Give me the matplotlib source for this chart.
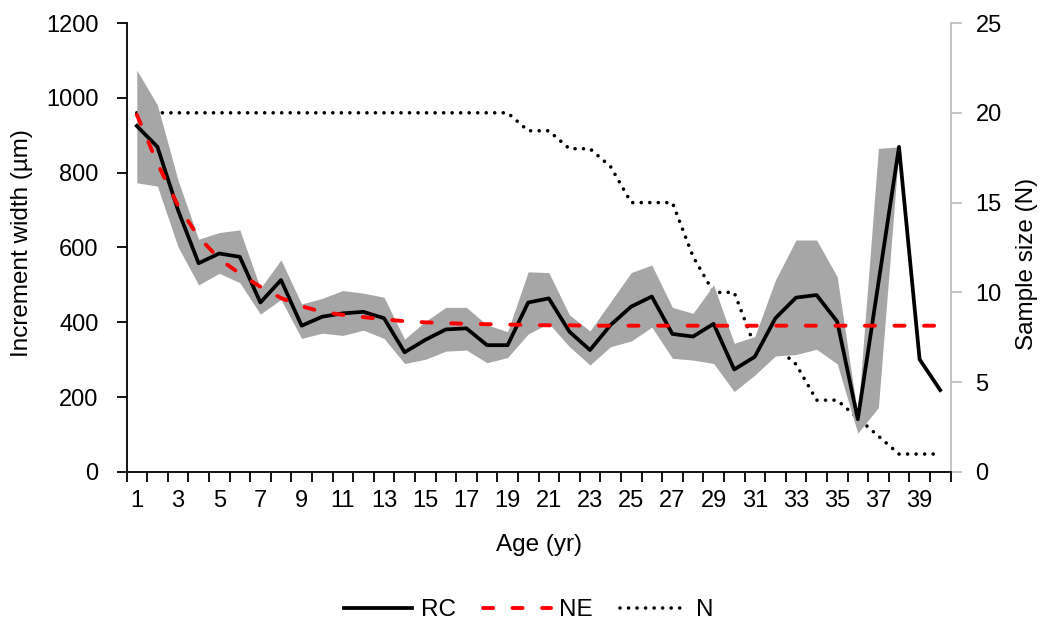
import matplotlib
matplotlib.use("Agg")
from matplotlib import pyplot as plt
from matplotlib.lines import Line2D

plt.rcParams['font.family'] = ['Liberation Sans', 'DejaVu Sans']

age = list(range(1, 41))

# RC chronology (um)
rc = [925, 869, 700, 558, 584, 575, 453, 513, 391, 415,
      424, 428, 411, 320, 353, 381, 384, 339, 339, 453,
      464, 375, 326, 393, 442, 469, 369, 362, 396, 274,
      308, 411, 466, 473, 402, 141, 505, 869, 301, 219]

# gray band, ages 1-38
band_age = list(range(1, 39))
band_hi = [1074, 981, 780, 622, 640, 647, 491, 567, 449, 464,
           485, 478, 467, 355, 402, 440, 440, 393, 375, 535,
           533, 420, 377, 455, 533, 553, 440, 424, 500, 344,
           362, 513, 620, 620, 522, 150, 865, 869]
band_lo = [773, 764, 602, 500, 531, 506, 422, 461, 357, 371,
           365, 379, 357, 290, 301, 323, 326, 292, 306, 369,
           397, 335, 286, 335, 350, 387, 304, 299, 290, 215,
           259, 310, 314, 328, 289, 104, 172, 869]

# NE curve (um)
ne = [955, 825, 712, 628, 570, 530, 495, 465, 443, 428,
      420, 414, 408, 403, 400, 398, 396, 395, 394, 393,
      392, 392, 391, 391, 391, 391, 391, 391, 391, 391,
      391, 391, 391, 391, 391, 391, 391, 391, 391, 391]

# sample size
n = [20, 20, 20, 20, 20, 20, 20, 20, 20, 20,
     20, 20, 20, 20, 20, 20, 20, 20, 20, 19,
     19, 18, 18, 17, 15, 15, 15, 12, 10, 10,
     7, 7, 6, 4, 4, 3, 2, 1, 1, 1]

fig = plt.figure(figsize=(10.45, 6.28), dpi=100)
ax = fig.add_axes([126.5 / 1045, 1 - 472 / 628, 824 / 1045, 449 / 628])
ax2 = ax.twinx()

ne_style = dict(color="#ff0000", lw=2.8, ls=(0, (2.6, 5.0)),
                dash_capstyle="round")
n_style = dict(color="black", lw=2.6, ls=(0, (0.01, 2.35)),
               dash_capstyle="round")

ax.fill_between(band_age, band_lo, band_hi, color="#a6a6a6", lw=0, zorder=1)
ax.plot(age, rc, color="black", lw=2.7, zorder=3)
ax.plot(age, ne, zorder=4, **ne_style)
ax2.plot(age, n, zorder=2, **n_style)

ax.set_zorder(2)
ax.patch.set_visible(False)

ax.set_xlim(0.5, 40.5)
ax.set_ylim(0, 1200)
ax2.set_ylim(0, 25)

ax.set_yticks(range(0, 1201, 200))
ax2.set_yticks(range(0, 26, 5))
ax.set_xticks(range(1, 40, 2))
ax.set_xticks([i + 0.5 for i in range(0, 41)], minor=True)

ax.tick_params(axis="x", which="major", length=0, pad=13, labelsize=17)
ax.tick_params(axis="x", which="minor", length=7, width=1.3, direction="out")
ax.tick_params(axis="y", length=7, width=1.3, pad=13, labelsize=17)
ax2.tick_params(axis="y", length=8, width=1.3, color="#bfbfbf", pad=10,
                labelsize=17)

for s in ["top", "right"]:
    ax.spines[s].set_visible(False)
ax.spines["left"].set_linewidth(1.3)
ax.spines["bottom"].set_linewidth(1.3)
ax2.spines["top"].set_visible(False)
ax2.spines["left"].set_visible(False)
ax2.spines["bottom"].set_visible(False)
ax2.spines["right"].set_color("#bfbfbf")
ax2.spines["right"].set_linewidth(1.3)

fig.text(22 / 1045, 1 - 243 / 628, "Increment width (µm)", rotation=90,
         ha="center", va="center", fontsize=17.5)
fig.text(1027 / 1045, 1 - 264 / 628, "Sample size (N)", rotation=90,
         ha="center", va="center", fontsize=17.5)
fig.text(538.5 / 1045, 1 - 545 / 628, "Age (yr)", ha="center", va="center",
         fontsize=17.5)

handles = [
    Line2D([], [], color="black", lw=2.7),
    Line2D([], [], **ne_style),
    Line2D([], [], **n_style),
]
fig.legend(handles, ["RC", "NE", "N"], loc="center",
           bbox_to_anchor=(529 / 1045, 1 - 610 / 628), ncol=3, frameon=False,
           fontsize=17.5, handlelength=2.8, handletextpad=0.35,
           columnspacing=1.1)

fig.savefig("out.png", dpi=100)
